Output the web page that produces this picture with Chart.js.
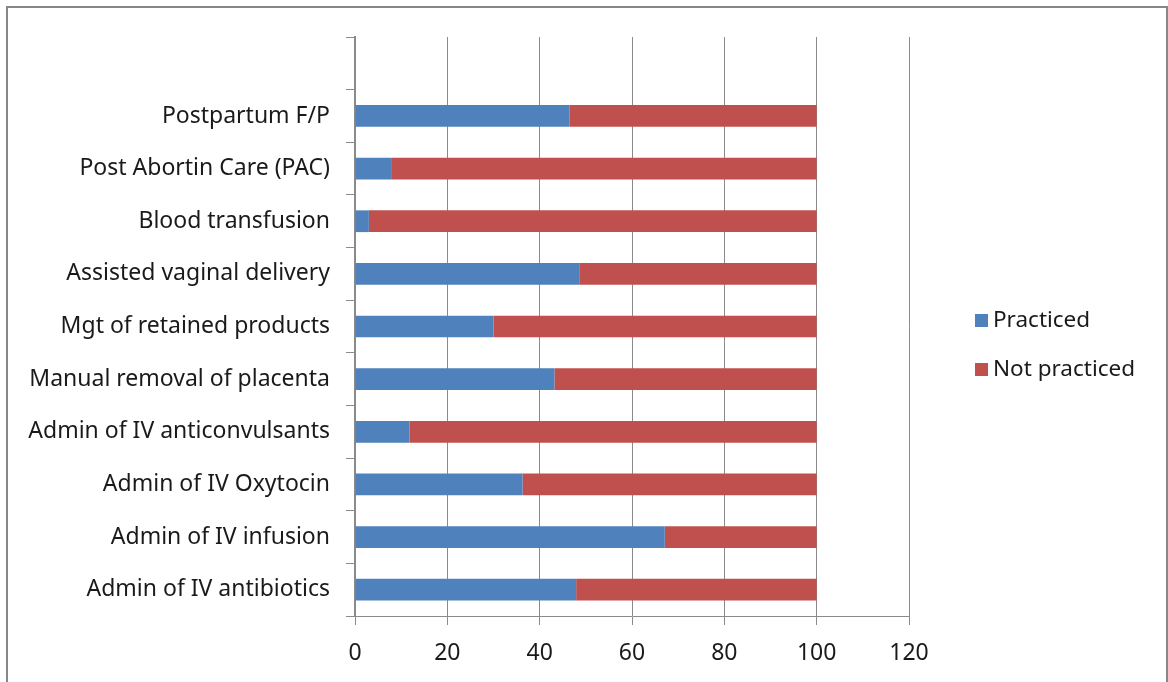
<!DOCTYPE html>
<html>
<head>
<meta charset="utf-8">
<script src="https://cdn.jsdelivr.net/npm/chart.js@4.4.1/dist/chart.umd.min.js"></script>
<style>
  html, body { margin: 0; padding: 0; background: #fff; overflow: hidden; }
  #wrap { position: relative; width: 1168px; height: 682px; }
  #frame { position: absolute; left: 6px; top: 6px; width: 1158px; height: 700px;
           border: 2px solid #878787; box-sizing: content-box; pointer-events: none; }
  canvas { position: absolute; left: 0; top: 0; }
</style>
</head>
<body>
<div id="wrap">
  <canvas id="c" width="1168" height="682"></canvas>
  <div id="frame"></div>
</div>
<script>
// Procedures, listed top to bottom (the first slot is left blank)
const categories = [
  '',
  'Postpartum F/P',
  'Post Abortin Care (PAC)',
  'Blood transfusion',
  'Assisted vaginal delivery',
  'Mgt of retained products',
  'Manual removal of placenta',
  'Admin of IV anticonvulsants',
  'Admin of IV Oxytocin',
  'Admin of IV infusion',
  'Admin of IV antibiotics'
];

// Percent of respondents
const practiced    = [null, 46.5, 8, 3, 48.7, 30, 43.2, 11.8, 36.3, 67.1, 47.9];
const notPracticed = [null, 53.5, 92, 97, 51.3, 70, 56.8, 88.2, 63.7, 32.9, 52.1];

const xTicks = [0, 20, 40, 60, 80, 100, 120];
const seriesNames = ['Practiced', 'Not practiced'];
const seriesColors = ['#4F81BD', '#C0504D'];

const FONT = 'Noto Sans';
const TEXT = '#1a1a1a';
const GRID = '#8a8a8a';

// Legend drawn to the right of the plot
const sideLegend = {
  id: 'sideLegend',
  afterDraw(chart) {
    const ctx = chart.ctx;
    ctx.save();
    ctx.font = '22.5px "' + FONT + '"';
    ctx.textBaseline = 'middle';
    ctx.fillStyle = TEXT;
    const x0 = 975, y0 = 321, step = 49;
    chart.data.datasets.forEach((ds, i) => {
      const y = y0 + i * step;
      ctx.fillStyle = ds.backgroundColor;
      ctx.fillRect(x0, y - 7, 13, 13);
      ctx.fillStyle = TEXT;
      ctx.fillText(ds.label, x0 + 18, y);
    });
    ctx.restore();
  }
};

new Chart(document.getElementById('c'), {
  type: 'bar',
  data: {
    labels: categories,
    datasets: [
      { label: seriesNames[0], data: practiced, backgroundColor: seriesColors[0],
        barPercentage: 1, categoryPercentage: 0.413 },
      { label: seriesNames[1], data: notPracticed, backgroundColor: seriesColors[1],
        barPercentage: 1, categoryPercentage: 0.413 }
    ]
  },
  options: {
    indexAxis: 'y',
    responsive: false,
    animation: false,
    layout: { padding: { top: 37, right: 259, left: 10, bottom: 0 } },
    plugins: { legend: { display: false }, tooltip: { enabled: false } },
    scales: {
      x: {
        stacked: true,
        min: 0, max: 120,
        afterBuildTicks(scale) { scale.ticks = xTicks.map(v => ({ value: v })); },
        afterFit(scale) { scale.height = 682 - 616; },
        grid: { color: GRID, lineWidth: 1, tickLength: 9, drawTicks: true, tickColor: GRID },
        border: { color: GRID, width: 1 },
        ticks: { color: TEXT, font: { family: FONT, size: 23 }, padding: 15 }
      },
      y: {
        stacked: true,
        afterFit(scale) { scale.width = 355 - 10; },
        grid: { drawOnChartArea: false, drawTicks: true, tickLength: 9, color: GRID, offset: true },
        border: { color: GRID, width: 2 },
        ticks: { color: TEXT, font: { family: FONT, size: 23 }, padding: 16, autoSkip: false }
      }
    }
  },
  plugins: [sideLegend]
});
</script>
</body>
</html>
